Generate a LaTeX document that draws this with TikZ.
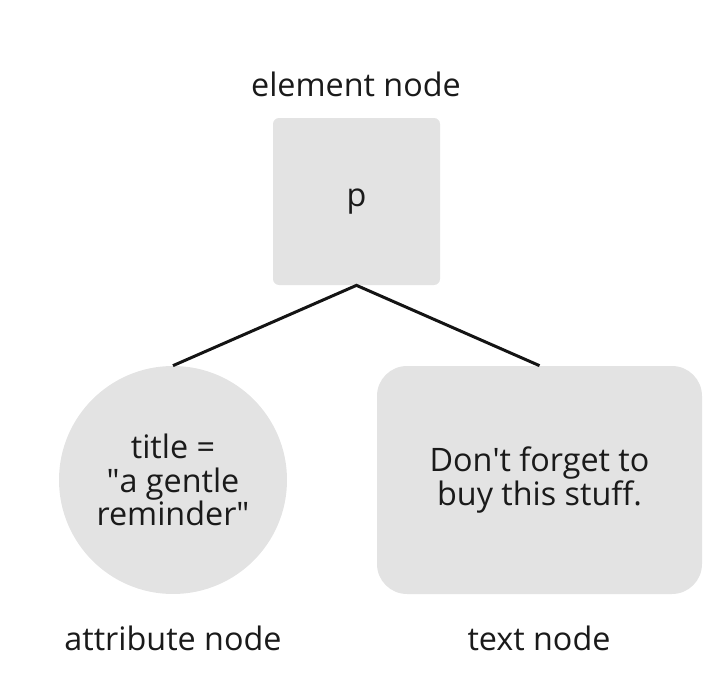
\documentclass[tikz,border=0pt]{standalone}
\usepackage{fontspec}
\setmainfont{Open Sans}
\usepackage{xcolor}
\usetikzlibrary{positioning}
\definecolor{NodeGray}{HTML}{E3E3E3}
\definecolor{InkText}{HTML}{1A1A1A}
\definecolor{EdgeBlack}{HTML}{141414}

\begin{document}
\begin{tikzpicture}[
        treenode/.style={
          fill=NodeGray, draw=none,
          align=center, inner sep=0pt,
          font=\fontsize{18.4}{19}\selectfont\color{InkText}
        },
        elembox/.style={
          treenode, rectangle, rounded corners=0.12cm,
          minimum width=3.34cm, minimum height=3.34cm
        },
        attrcircle/.style={
          treenode, circle, minimum size=4.56cm
        },
        textbox/.style={
          treenode, rectangle, rounded corners=0.6cm,
          minimum width=6.5cm, minimum height=4.56cm
        },
        caption/.style={
          inner sep=0pt,
          font=\fontsize{18.4}{19}\selectfont\color{InkText}
        },
        link/.style={EdgeBlack, line width=1.7pt}
      ]
      \useasboundingbox (0,0) rectangle (14.48,-13.48);

      \node[elembox]    (elem) at (7.13,-4.03) {p};
      \node[attrcircle] (attr) at (3.46,-9.6)
        {title =\\\textquotedbl a gentle\\reminder\textquotedbl};
      \node[textbox]    (text) at (10.79,-9.6)
        {Don\textquotesingle t forget to\\buy this stuff.};

      \node[caption] (elemlbl) at (7.12,-1.68)  {element node};
      \node[caption] (attrlbl) at (3.46,-12.76) {attribute node};
      \node[caption] (textlbl) at (10.78,-12.76) {text node};

      \draw[link] (attr.north) -- (elem.south) -- (text.north);
    \end{tikzpicture}
\end{document}
